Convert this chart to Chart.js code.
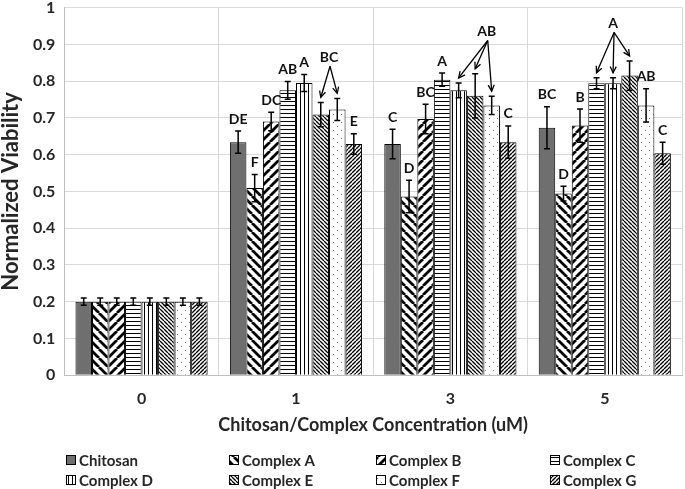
<!DOCTYPE html>
<html>
<head>
<meta charset="utf-8">
<script src="https://cdn.jsdelivr.net/npm/chart.js@4.4.0/dist/chart.umd.min.js"></script>
<style>
  html, body { margin: 0; padding: 0; background: #fff; overflow: hidden; }
  #viability-chart { display: block; margin-top: -11px; }
</style>
</head>
<body>
<canvas id="viability-chart" width="685" height="500"></canvas>
<script>
// concentrations on the x axis
const concentrations = ['0', '1', '3', '5'];
const seriesNames = ['Chitosan', 'Complex A', 'Complex B', 'Complex C',
                     'Complex D', 'Complex E', 'Complex F', 'Complex G'];

// mean normalized viability per concentration
const chitosan = [0.20, 0.634, 0.629, 0.673];
const complexA = [0.20, 0.509, 0.486, 0.494];
const complexB = [0.20, 0.690, 0.697, 0.679];
const complexC = [0.20, 0.775, 0.804, 0.794];
const complexD = [0.20, 0.795, 0.775, 0.794];
const complexE = [0.20, 0.709, 0.760, 0.815];
const complexF = [0.20, 0.723, 0.734, 0.734];
const complexG = [0.20, 0.629, 0.634, 0.604];

// error bar half-widths
const chitosanErr = [0.01, 0.030, 0.040, 0.057];
const complexAErr = [0.01, 0.037, 0.044, 0.020];
const complexBErr = [0.01, 0.025, 0.040, 0.045];
const complexCErr = [0.01, 0.024, 0.018, 0.015];
const complexDErr = [0.01, 0.023, 0.020, 0.015];
const complexEErr = [0.01, 0.033, 0.060, 0.040];
const complexFErr = [0.01, 0.030, 0.025, 0.045];
const complexGErr = [0.01, 0.028, 0.044, 0.030];

// significance letters over single bars (per series, per concentration)
const chitosanLetters = ['', 'DE', 'C', 'BC'];
const complexALetters = ['', 'F', 'D', 'D'];
const complexBLetters = ['', 'DC', 'BC', 'B'];
const complexCLetters = ['', 'AB', 'A', ''];
const complexDLetters = ['', 'A', '', ''];
const complexELetters = ['', '', '', ''];
const complexFLetters = ['', '', '', 'AB'];
const complexGLetters = ['', 'E', 'C', 'C'];

// letters shared by several bars, drawn with arrows
const arrowNotes = [
  { group: 1, text: 'BC', anchor: 5.5, at: 0.865, targets: [5, 6] },
  { group: 2, text: 'AB', anchor: 5.7, at: 0.935, targets: [4, 5, 6] },
  { group: 3, text: 'A',  anchor: 4,   at: 0.957, targets: [3, 4, 5] }
];

const seriesValues = [chitosan, complexA, complexB, complexC, complexD, complexE, complexF, complexG];
const seriesErrors = [chitosanErr, complexAErr, complexBErr, complexCErr, complexDErr, complexEErr, complexFErr, complexGErr];
const seriesLetters = [chitosanLetters, complexALetters, complexBLetters, complexCLetters,
                       complexDLetters, complexELetters, complexFLetters, complexGLetters];

const FONT = 'Lato, "Open Sans", sans-serif';
const TEXT = '#262626';

// fill patterns, roughly like the Excel ones
function makePattern(kind) {
  if (kind === 'solid') return '#6f6f6f';
  const c = document.createElement('canvas');
  let s = 9;
  if (kind === 'fineBack' || kind === 'fineFwd') s = 4;
  if (kind === 'hlines' || kind === 'vlines') s = 4;
  if (kind === 'dots') s = 8;
  c.width = s; c.height = s;
  const g = c.getContext('2d');
  g.fillStyle = '#fff';
  g.fillRect(0, 0, s, s);
  g.strokeStyle = '#000';
  g.fillStyle = '#000';
  if (kind === 'wideBack' || kind === 'fineBack') {
    g.lineWidth = kind === 'wideBack' ? 2.8 : 1.3;
    g.beginPath();
    for (let k = -1; k <= 1; k++) { g.moveTo(k * s, 0); g.lineTo(k * s + s, s); }
    g.stroke();
  } else if (kind === 'wideFwd' || kind === 'fineFwd') {
    g.lineWidth = kind === 'wideFwd' ? 2.8 : 1.4;
    g.beginPath();
    for (let k = -1; k <= 1; k++) { g.moveTo(k * s, s); g.lineTo(k * s + s, 0); }
    g.stroke();
  } else if (kind === 'hlines') {
    g.fillRect(0, 0, s, 1);
  } else if (kind === 'vlines') {
    g.fillRect(0, 0, 1, s);
  } else if (kind === 'dots') {
    g.fillStyle = '#777';
    g.fillRect(1, 1, 1, 1);
    g.fillRect(5, 5, 1, 1);
  }
  return g.createPattern(c, 'repeat');
}

const patternKinds = ['solid', 'wideBack', 'wideFwd', 'hlines', 'vlines', 'fineBack', 'dots', 'fineFwd'];
const fills = patternKinds.map(makePattern);

function drawArrow(ctx, x1, y1, x2, y2) {
  ctx.beginPath();
  ctx.moveTo(x1, y1);
  ctx.lineTo(x2, y2);
  ctx.stroke();
  const a = Math.atan2(y2 - y1, x2 - x1);
  const L = 7;
  ctx.beginPath();
  ctx.moveTo(x2 - L * Math.cos(a - 0.45), y2 - L * Math.sin(a - 0.45));
  ctx.lineTo(x2, y2);
  ctx.lineTo(x2 - L * Math.cos(a + 0.45), y2 - L * Math.sin(a + 0.45));
  ctx.stroke();
}

const annotations = {
  id: 'annotations',
  afterDatasetsDraw(chart) {
    const ctx = chart.ctx;
    const y = chart.scales.y;
    const errTop = (i, j) => y.getPixelForValue(seriesValues[i][j] + seriesErrors[i][j]);
    ctx.save();
    ctx.strokeStyle = '#000';
    ctx.lineWidth = 1.5;
    // error bars
    seriesValues.forEach((vals, i) => {
      chart.getDatasetMeta(i).data.forEach((bar, j) => {
        const top = errTop(i, j);
        const bot = y.getPixelForValue(vals[j] - seriesErrors[i][j]);
        ctx.beginPath();
        ctx.moveTo(bar.x, top); ctx.lineTo(bar.x, bot);
        ctx.moveTo(bar.x - 3, top); ctx.lineTo(bar.x + 3, top);
        ctx.moveTo(bar.x - 3, bot); ctx.lineTo(bar.x + 3, bot);
        ctx.stroke();
      });
    });
    // letters
    ctx.fillStyle = '#111';
    ctx.font = 'bold 14px ' + FONT;
    ctx.textAlign = 'center';
    ctx.textBaseline = 'middle';
    seriesLetters.forEach((lets, i) => {
      chart.getDatasetMeta(i).data.forEach((bar, j) => {
        if (!lets[j]) return;
        ctx.fillText(lets[j], bar.x, errTop(i, j) - 12);
      });
    });
    // shared letters with arrows
    ctx.lineWidth = 1.3;
    arrowNotes.forEach(n => {
      const lo = Math.floor(n.anchor), hi = Math.ceil(n.anchor);
      const xa = chart.getDatasetMeta(lo).data[n.group].x;
      const xb = chart.getDatasetMeta(hi).data[n.group].x;
      const lx = xa + (xb - xa) * (n.anchor - lo);
      const ly = y.getPixelForValue(n.at);
      ctx.fillText(n.text, lx, ly);
      n.targets.forEach(t => {
        const bar = chart.getDatasetMeta(t).data[n.group];
        drawArrow(ctx, lx + 1, ly + 9, bar.x, errTop(t, n.group) - 5);
      });
    });
    ctx.restore();
  }
};

// legend in two rows of four, aligned in columns
const legendGrid = {
  id: 'legendGrid',
  afterDraw(chart) {
    const ctx = chart.ctx;
    const colX = [66, 229, 376, 550];
    const rowY = [471, 491];
    ctx.save();
    ctx.font = 'bold 15px ' + FONT;
    ctx.textBaseline = 'middle';
    ctx.textAlign = 'left';
    seriesNames.forEach((name, i) => {
      const x = colX[i % 4], yy = rowY[Math.floor(i / 4)];
      ctx.fillStyle = fills[i];
      ctx.fillRect(x, yy - 5, 10, 10);
      ctx.strokeStyle = '#000';
      ctx.lineWidth = 1;
      ctx.strokeRect(x + 0.5, yy - 4.5, 9, 9);
      ctx.fillStyle = TEXT;
      ctx.fillText(name, x + 13, yy + 1);
    });
    ctx.restore();
  }
};

const ctx = document.getElementById('viability-chart');

new Chart(ctx, {
  type: 'bar',
  data: {
    labels: concentrations,
    datasets: seriesNames.map((name, i) => ({
      label: name,
      data: seriesValues[i],
      backgroundColor: fills[i],
      borderColor: '#000',
      borderWidth: 1,
      categoryPercentage: 0.856,
      barPercentage: 1
    }))
  },
  options: {
    responsive: false,
    animation: false,
    layout: { padding: { left: 0, right: 3, top: 0, bottom: 53 } },
    plugins: {
      legend: { display: false },
      tooltip: { enabled: false }
    },
    scales: {
      x: {
        grid: { color: '#d9d9d9', offset: true, drawTicks: false },
        border: { color: '#bfbfbf' },
        ticks: { color: TEXT, padding: 14, font: { family: FONT, size: 16, weight: 'bold' } },
        title: {
          display: true,
          text: 'Chitosan/Complex Concentration (uM)',
          color: TEXT,
          padding: { top: -8, bottom: 0 },
          font: { family: FONT, size: 18, weight: 'bold' }
        }
      },
      y: {
        min: 0,
        max: 1,
        grid: { color: '#d9d9d9', drawTicks: false },
        border: { color: '#bfbfbf' },
        ticks: {
          stepSize: 0.1,
          color: TEXT,
          padding: 9,
          font: { family: FONT, size: 16, weight: 'bold' },
          callback: v => +v.toFixed(1)
        },
        title: {
          display: true,
          text: 'Normalized Viability',
          color: TEXT,
          padding: { top: 0, bottom: 2 },
          font: { family: FONT, size: 22, weight: 'bold', lineHeight: 1 }
        }
      }
    }
  },
  plugins: [annotations, legendGrid]
});
</script>
</body>
</html>
